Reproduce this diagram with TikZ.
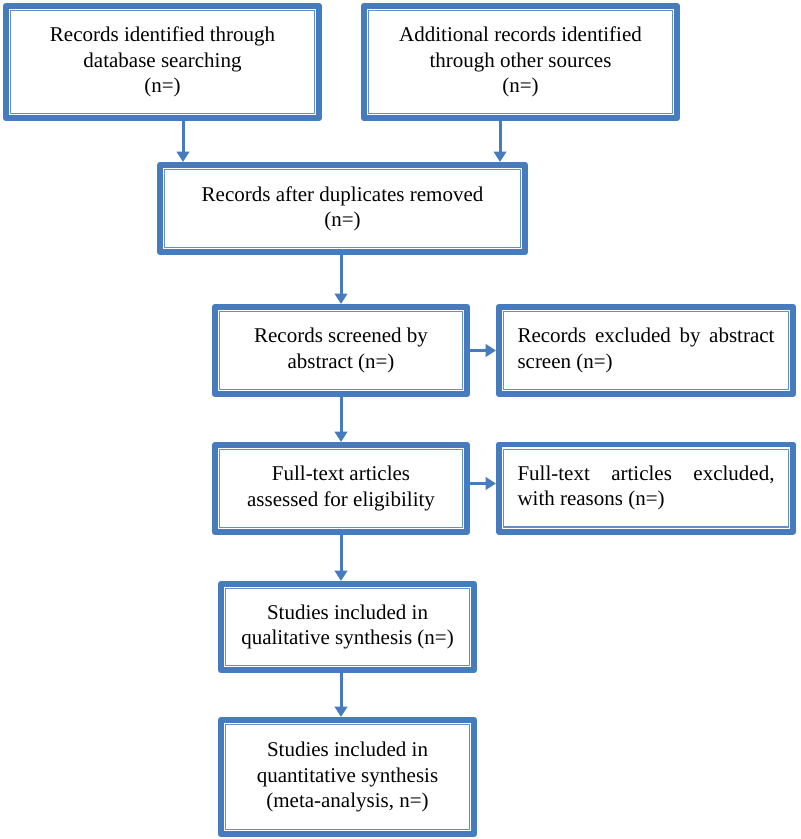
\documentclass[tikz,border=0pt]{standalone}
\usepackage{fontspec}
\setmainfont{Liberation Serif}
\usetikzlibrary{arrows.meta}
\definecolor{boxblue}{RGB}{70,123,190}
\begin{document}
\begin{tikzpicture}[x=0.5pt,y=-0.5pt,font=\fontsize{10.5pt}{12.6pt}\selectfont,line join=round,>={Triangle[width=6.2pt,length=5.2pt]},
	box/.style={draw=boxblue,line width=2.8pt,fill=white,align=center,inner sep=2pt,
		path picture={\draw[boxblue!85,line width=0.6pt] ([shift={(2.4pt,2.4pt)}]path picture bounding box.south west) rectangle ([shift={(-2.4pt,-2.4pt)}]path picture bounding box.north east);}},
	size/.style 2 args={minimum width={(#1-5.6)*0.5pt},minimum height={(#2-5.6)*0.5pt}},
	link/.style={->,draw=boxblue,line width=1.5pt}]
	\useasboundingbox (0,0) rectangle (800,839);
	% boxes
	\node[box,size={319}{118}] (ident) at (162.5,62) {Records identified through\\database searching\\(n=)};
	\node[box,size={319}{118}] (other) at (520.5,62) {Additional records identified\\through other sources\\(n=)};
	\node[box,size={371}{93}] (dupl) at (342.5,208.5) {Records after duplicates removed\\(n=)};
	\node[box,size={258}{93}] (screen) at (341,350.5) {Records screened by\\abstract (n=)};
	\node[box,size={300}{93},align=justify,text width=128.5pt] (exabs) at (646,350.5) {Records excluded by abstract screen (n=)\par\vspace{5pt}};
	\node[box,size={258}{93}] (full) at (341,488.5) {Full-text articles\\assessed for eligibility};
	\node[box,size={300}{93},align=justify,text width=128.5pt] (exfull) at (646,488) {Full-text articles excluded, with reasons (n=)\par\vspace{5pt}};
	\node[box,size={259}{92}] (qual) at (347.5,627) {Studies included in\\qualitative synthesis (n=)};
	\node[box,size={259}{120}] (quant) at (347.5,777) {Studies included in\\quantitative synthesis\\(meta-analysis, n=)};
	% arrows
	\draw[link] ([xshift=10.25pt]ident.south) -- ([xshift=10.25pt]ident.south |- dupl.north);
	\draw[link] ([xshift=-10.25pt]other.south) -- ([xshift=-10.25pt]other.south |- dupl.north);
	\draw[link] (dupl.south -| screen) -- (screen.north);
	\draw[link] (screen.east) -- (exabs.west);
	\draw[link] (screen.south) -- (full.north);
	\draw[link] ([yshift=2.5pt]full.east) -- ([yshift=2.5pt]full.east -| exfull.west);
	\draw[link] (full.south) -- (full.south |- qual.north);
	\draw[link] (qual.south -| full) -- (quant.north -| full);
\end{tikzpicture}
\end{document}
